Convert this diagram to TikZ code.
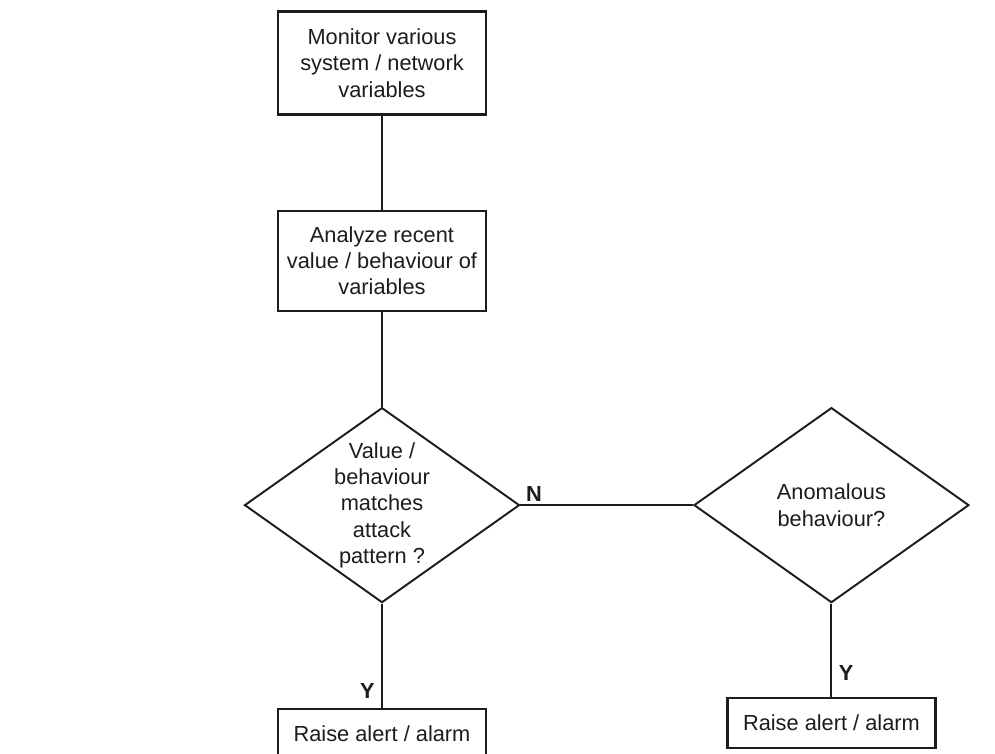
\documentclass[tikz,border=0pt]{standalone}
\usepackage{fontspec}
\setmainfont{Liberation Sans}
\usepackage{tikz}
\usetikzlibrary{positioning,shapes.geometric}
\definecolor{tinta}{HTML}{1C1C1C}

\begin{document}
\begin{tikzpicture}[
      node distance=1.88cm,
      caja/.style={draw=tinta,line width=1.2pt,align=center,
                   font=\fontsize{12.4}{15}\selectfont,inner sep=2pt,
                   minimum width=4.16cm,minimum height=2cm,text=tinta},
      baja/.style={caja,minimum height=1cm},
      rombo/.style={diamond,draw=tinta,line width=1.1pt,align=center,
                   font=\fontsize{12.4}{15}\selectfont,inner sep=0pt,aspect=1.4,
                   minimum width=5.5cm,minimum height=3.9cm,text=tinta},
      fl/.style={draw=tinta,line width=1.1pt},
      et/.style={font=\fontsize{12.4}{15}\selectfont\bfseries,text=tinta,inner sep=1pt}]
    \useasboundingbox (0,0) rectangle (19.9,-15.06);
    \node[caja,minimum height=2.06cm] (c1) at (7.64,-1.26) {Monitor various\\ system / network\\ variables};
    \node[caja,below=of c1] (c2) {Analyze recent\\ value / behaviour of\\ variables};
    \node[rombo,below=1.9cm of c2] (r1) {Value /\\ behaviour\\ matches\\ attack\\ pattern ?};
    \node[rombo,right=3.45cm of r1] (r2) {Anomalous\\ behaviour?};
    \node[baja,below=2.09cm of r1] (a1) {Raise alert / alarm};
    \node[baja,below=1.87cm of r2] (a2) {Raise alert / alarm};
    \foreach \a/\b in {c1/c2,c2/r1,r1/a1,r2/a2,r1/r2} \draw[fl] (\a) -- (\b);
    \node[et,above right=1pt and 2pt of r1.east] (n1) {N};
    \node[et,above left=4pt and 3pt of a1.north] (y1) {Y};
    \node[et,above right=8pt and 3pt of a2.north] (y2) {Y};
  \end{tikzpicture}
\end{document}
